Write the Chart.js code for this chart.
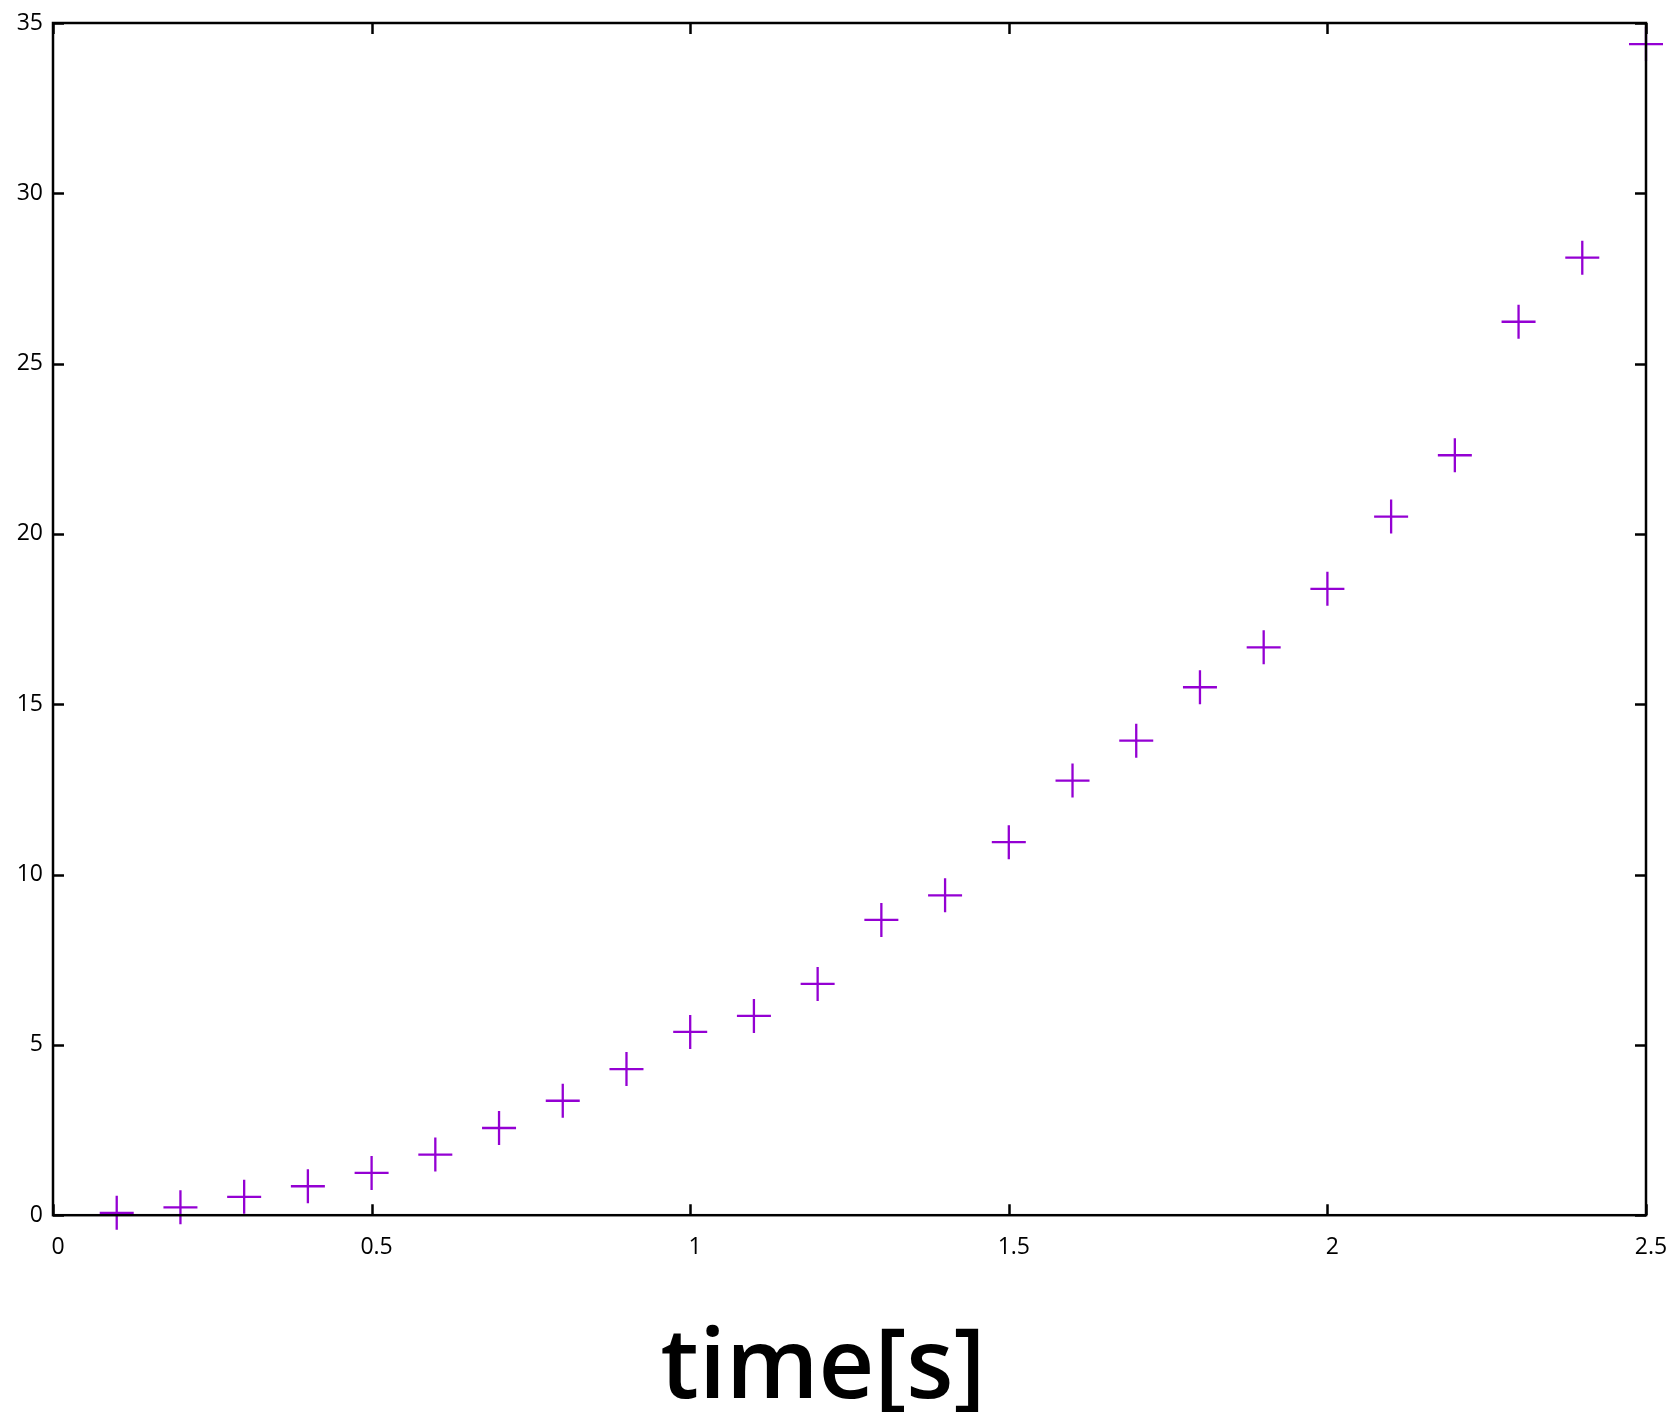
<!DOCTYPE html>
<html>
<head>
<meta charset="utf-8">
<title>time[s]</title>
<script src="https://cdn.jsdelivr.net/npm/chart.js@4/dist/chart.umd.min.js"></script>
<style>
  html, body { margin: 0; padding: 0; background: #fff; }
  #wrap { width: 1676px; height: 1412px; }
</style>
</head>
<body>
<div id="wrap"><canvas id="plot"></canvas></div>
<script>
// sampled series: time in seconds vs measured value
const timeValues = [0.1, 0.2, 0.3, 0.4, 0.5, 0.6, 0.7, 0.8, 0.9, 1.0,
  1.1, 1.2, 1.3, 1.4, 1.5, 1.6, 1.7, 1.8, 1.9, 2.0,
  2.1, 2.2, 2.3, 2.4, 2.5];
const measured = [0.07, 0.23, 0.54, 0.85, 1.24, 1.78, 2.56, 3.36, 4.29, 5.38,
  5.85, 6.79, 8.67, 9.39, 10.95, 12.76, 13.93, 15.5, 16.67, 18.39,
  20.51, 22.31, 26.23, 28.11, 34.38];

const xTicks = [0, 0.5, 1, 1.5, 2, 2.5];
const xTickLabels = ['0', '0.5', '1', '1.5', '2', '2.5'];
const yTicks = [0, 5, 10, 15, 20, 25, 30, 35];
const yTickLabels = ['0', '5', '10', '15', '20', '25', '30', '35'];
const xTitle = 'time[s]';

const INK = '#000';
const MARK = '#9400d3';
const TICK_LEN = 11;

// gnuplot-style frame: box border plus inward ticks mirrored on all sides
const framePlugin = {
  id: 'frame',
  afterDatasetsDraw(chart) {
    const { ctx, chartArea: a, scales } = chart;
    ctx.save();
    ctx.strokeStyle = INK;
    ctx.lineWidth = 2.5;
    ctx.beginPath();
    scales.x.ticks.forEach((t) => {
      const px = Math.round(scales.x.getPixelForValue(t.value)) + 0.5;
      ctx.moveTo(px, a.bottom); ctx.lineTo(px, a.bottom - TICK_LEN);
      ctx.moveTo(px, a.top); ctx.lineTo(px, a.top + TICK_LEN);
    });
    scales.y.ticks.forEach((t) => {
      const py = Math.round(scales.y.getPixelForValue(t.value)) + 0.5;
      ctx.moveTo(a.left, py); ctx.lineTo(a.left + TICK_LEN, py);
      ctx.moveTo(a.right, py); ctx.lineTo(a.right - TICK_LEN, py);
    });
    ctx.stroke();
    ctx.strokeRect(a.left, a.top, a.right - a.left, a.bottom - a.top);
    ctx.restore();
  },
};

const tickFont = { family: '"Open Sans", "Noto Sans", sans-serif', size: 23 };

new Chart(document.getElementById('plot'), {
  type: 'scatter',
  data: {
    datasets: [{
      data: timeValues.map((t, i) => ({ x: t, y: measured[i] })),
      pointStyle: 'cross',
      pointRadius: 17,
      pointHoverRadius: 17,
      pointBorderWidth: 2.3,
      borderColor: MARK,
      backgroundColor: MARK,
      clip: false,
    }],
  },
  options: {
    responsive: true,
    maintainAspectRatio: false,
    animation: false,
    events: [],
    layout: { padding: { top: 23, right: 30, left: 0, bottom: 0 } },
    plugins: {
      legend: { display: false },
      tooltip: { enabled: false },
      title: {
        display: true,
        position: 'bottom',
        text: xTitle,
        color: INK,
        // short line box so the text can sit low in the 147px strip
        font: { family: '"Open Sans", "Noto Sans", sans-serif', size: 97, weight: '600', lineHeight: 0.4 },
        padding: { top: 86, bottom: 22 },
      },
    },
    scales: {
      x: {
        type: 'linear',
        min: 0,
        max: 2.5,
        afterBuildTicks: (s) => { s.ticks = xTicks.map((v) => ({ value: v })); },
        afterFit: (s) => {
          s.height = 50;
          s.paddingLeft = 0;
          s.paddingRight = 0;
        },
        grid: { display: false, drawTicks: false },
        border: { display: false },
        ticks: {
          color: INK,
          font: tickFont,
          padding: 18,
          labelOffset: 5,
          maxRotation: 0,
          callback: (v) => xTickLabels[xTicks.indexOf(v)],
        },
      },
      y: {
        type: 'linear',
        min: 0,
        max: 35,
        afterBuildTicks: (s) => { s.ticks = yTicks.map((v) => ({ value: v })); },
        afterFit: (s) => {
          s.width = 53;
          s.paddingTop = 0;
          s.paddingBottom = 0;
        },
        grid: { display: false, drawTicks: false },
        border: { display: false },
        ticks: {
          color: INK,
          font: tickFont,
          padding: 10,
          callback: (v) => yTickLabels[yTicks.indexOf(v)],
        },
      },
    },
  },
  plugins: [framePlugin],
});
</script>
</body>
</html>
